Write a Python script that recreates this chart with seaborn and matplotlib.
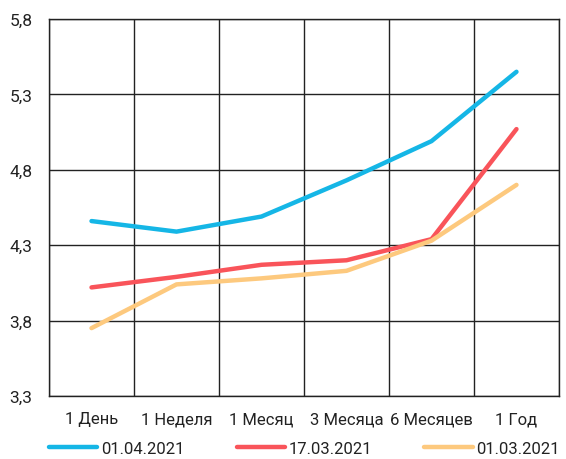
import matplotlib.pyplot as plt
import matplotlib.ticker as mticker
import numpy as np
import seaborn as sns
import pandas as pd

terms = ["1 День", "1 Неделя", "1 Месяц", "3 Месяца", "6 Месяцев", "1 Год"]
dates = ["01.04.2021", "17.03.2021", "01.03.2021"]
rates_0104 = [4.46, 4.39, 4.49, 4.73, 4.99, 5.45]
rates_1703 = [4.02, 4.09, 4.17, 4.20, 4.34, 5.07]
rates_0103 = [3.75, 4.04, 4.08, 4.13, 4.33, 4.70]
colors = ["#15B6E6", "#F9545A", "#FDC97E"]
y_ticks = [3.3, 3.8, 4.3, 4.8, 5.3, 5.8]

rows = []
for d, vals in zip(dates, [rates_0104, rates_1703, rates_0103]):
    for i, v in enumerate(vals):
        rows.append({"term": i, "date": d, "rate": v})
df = pd.DataFrame(rows)

sns.set_style("white")
plt.rcParams['font.family'] = ['Roboto', 'DejaVu Sans']

fig = plt.figure(figsize=(5.66, 4.60), dpi=100)
ax = fig.add_axes([0.0866, 0.137, 0.901, 0.8195])

sns.lineplot(data=df, x="term", y="rate", hue="date", hue_order=dates,
             palette=colors, linewidth=3.2, ax=ax, legend=False)

ax.set_xlim(-0.5, 5.5)
ax.set_ylim(3.3, 5.8)
ax.set_xticks(range(len(terms)))
ax.set_xticklabels(terms)
ax.set_xticks(np.arange(-0.5, 6, 1), minor=True)
ax.set_yticks(y_ticks)
ax.yaxis.set_major_formatter(mticker.FuncFormatter(lambda v, p: f"{v:.1f}".replace(".", ",")))
ax.tick_params(axis='both', which='both', length=0, labelsize=12, colors='#222222', pad=11)
ax.tick_params(axis='y', labelsize=12.5, pad=12)
ax.grid(axis='y', which='major', color='#222222', linewidth=1)
ax.grid(axis='x', which='minor', color='#222222', linewidth=1)
ax.grid(axis='x', which='major', visible=False)
ax.set_axisbelow(True)
for s in ax.spines.values():
    s.set_color('#222222')
    s.set_linewidth(1)
ax.set_xlabel("")
ax.set_ylabel("")

handles = [plt.Line2D([], [], color=c, linewidth=3.2) for c in colors]
fig.legend(handles, dates, loc='lower left', bbox_to_anchor=(0.0866, 0.006, 0.902, 0.05),
           mode='expand', ncol=3, frameon=False, fontsize=12, handlelength=2.9,
           handletextpad=0.2, borderaxespad=0, borderpad=0, labelcolor='#222222')

plt.savefig("out.png", dpi=100)
